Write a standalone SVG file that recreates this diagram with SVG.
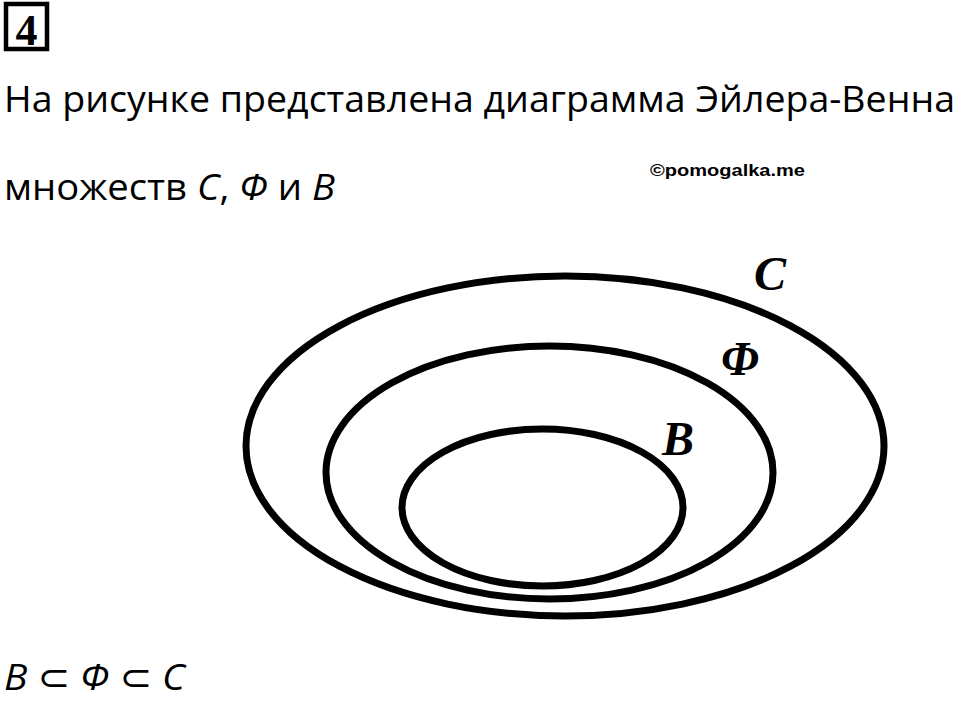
<svg xmlns="http://www.w3.org/2000/svg" width="960" height="702" viewBox="0 0 960 702">
<style>
.t{font-family:"Open Sans","Noto Sans","DejaVu Sans",sans-serif;font-size:37px;fill:#000}
.i{font-style:italic}
.set{fill:none;stroke:#000;stroke-width:7}
.lbl{font-family:"Liberation Serif","Times New Roman",serif;font-weight:bold;font-style:italic;font-size:48px;fill:#000}
.wm{font-family:"Liberation Sans",Arial,sans-serif;font-weight:bold;font-size:17px;fill:#000}
</style>
<rect width="960" height="702" fill="#fff"/>
<g id="task-number">
<rect x="6" y="4" width="41" height="45" fill="none" stroke="#000" stroke-width="4.5"/>
<text x="26.5" y="45" text-anchor="middle" font-family="Liberation Serif,serif" font-weight="bold" font-size="44">4</text>
</g>
<text class="t" x="4" y="112" textLength="951" lengthAdjust="spacingAndGlyphs">На рисунке представлена диаграмма Эйлера-Венна</text>
<text class="t" x="4" y="200" textLength="331" lengthAdjust="spacingAndGlyphs">множеств <tspan class="i">C</tspan>, <tspan class="i">Φ</tspan> и <tspan class="i">B</tspan></text>
<text class="wm" x="650" y="176" textLength="155" lengthAdjust="spacingAndGlyphs">©pomogalka.me</text>
<g id="connectors"/>
<g id="set-C">
<ellipse class="set" cx="565" cy="446" rx="319" ry="170"/>
<text class="lbl" x="754" y="290">C</text>
</g>
<g id="set-Phi">
<ellipse class="set" cx="549.5" cy="472.5" rx="223.5" ry="126.5"/>
<text class="lbl" x="721" y="375">Φ</text>
</g>
<g id="set-B">
<ellipse class="set" cx="542.5" cy="507.5" rx="140.5" ry="78.5"/>
<text class="lbl" x="662" y="455">B</text>
</g>
<text class="t" x="4" y="690" textLength="181" lengthAdjust="spacingAndGlyphs"><tspan class="i">B</tspan> ⊂ <tspan class="i">Φ</tspan> ⊂ <tspan class="i">C</tspan></text>
</svg>
